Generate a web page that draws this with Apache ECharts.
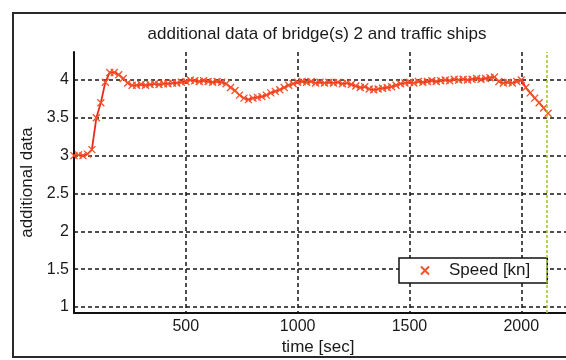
<!DOCTYPE html>
<html>
<head>
<meta charset="utf-8">
<script src="https://cdn.jsdelivr.net/npm/echarts@6/dist/echarts.min.js"></script>
<style>
  html, body { margin: 0; padding: 0; background: #fff; }
  #chart { width: 566px; height: 360px; }
</style>
</head>
<body>
<div id="chart"></div>
<script>
// Sample times (sec) and measured speed values (kn)
const times = [
  0, 20, 40, 60, 80, 100, 120, 140, 160, 180,
  200, 220, 240, 260, 280, 300, 320, 340, 360, 380,
  400, 420, 440, 460, 480, 500, 520, 540, 560, 580,
  600, 620, 640, 660, 680, 700, 720, 740, 760, 780,
  800, 820, 840, 860, 880, 900, 920, 940, 960, 980,
  1000, 1020, 1040, 1060, 1080, 1100, 1120, 1140, 1160, 1180,
  1200, 1220, 1240, 1260, 1280, 1300, 1320, 1340, 1360, 1380,
  1400, 1420, 1440, 1460, 1480, 1500, 1520, 1540, 1560, 1580,
  1600, 1620, 1640, 1660, 1680, 1700, 1720, 1740, 1760, 1780,
  1800, 1820, 1840, 1860, 1880, 1900, 1920, 1940, 1960, 1980,
  2000, 2020, 2040, 2060, 2080, 2100, 2120
];
const speed = [
  3.00, 3.01, 3.00, 3.02, 3.08, 3.50, 3.70, 3.97, 4.10, 4.10,
  4.07, 4.02, 3.96, 3.93, 3.93, 3.94, 3.93, 3.94, 3.95, 3.94,
  3.95, 3.95, 3.96, 3.96, 3.97, 3.98, 4.00, 3.99, 3.98, 3.99,
  3.98, 3.97, 3.98, 3.97, 3.95, 3.90, 3.86, 3.80, 3.76, 3.74,
  3.76, 3.77, 3.78, 3.80, 3.83, 3.85, 3.87, 3.90, 3.93, 3.95,
  3.97, 3.98, 3.97, 3.98, 3.96, 3.97, 3.96, 3.97, 3.96, 3.97,
  3.95, 3.96, 3.94, 3.92, 3.90, 3.91, 3.88, 3.87, 3.88, 3.89,
  3.90, 3.91, 3.93, 3.95, 3.96, 3.97, 3.96, 3.98, 3.97, 3.98,
  3.99, 3.98, 3.99, 4.00, 3.99, 4.01, 4.00, 4.01, 4.00, 4.01,
  4.02, 4.01, 4.02, 4.03, 4.04, 3.98, 3.96, 3.97, 3.96, 3.98,
  4.00, 3.90, 3.83, 3.76, 3.70, 3.63, 3.56
];
// Vertical marker (bridge event time, sec)
const markerTime = [2114];

const seriesName = 'Speed [kn]';
const titleText = 'additional data of bridge(s) 2 and traffic ships';
const xName = 'time [sec]';
const yName = 'additional data';

const FONT = 'Liberation Sans, Arial, sans-serif';
const crossPath = 'path://M0,0L10,10M10,0L0,10';

const chart = echarts.init(document.getElementById('chart'), null, { renderer: 'canvas' });

const gridDash = { color: '#151515', width: 1.5, type: [4, 3] };
const plainNumber = v => String(v);

chart.setOption({
  backgroundColor: '#ffffff',
  animation: false,
  title: {
    text: titleText,
    left: 312,
    top: 21,
    textAlign: 'center',
    textStyle: { fontFamily: FONT, fontSize: 17, fontWeight: 'normal', color: '#1a1a1a' }
  },
  grid: { left: 74, top: 52, bottom: 47, right: -18, containLabel: false },
  legend: {
    data: [seriesName],
    left: 399,
    top: 258,
    icon: crossPath,
    itemWidth: 8,
    itemHeight: 8,
    selectedMode: false,
    backgroundColor: '#ffffff',
    borderColor: '#111',
    borderWidth: 1.5,
    borderRadius: 0,
    padding: [3, 17, 3, 21],
    textStyle: {
      fontFamily: FONT, fontSize: 17, color: '#1a1a1a', lineHeight: 19,
      padding: [0, 0, 0, 15]
    }
  },
  xAxis: {
    type: 'value',
    min: 0,
    max: 2200,
    interval: 500,
    axisLine: { show: true, onZero: false, lineStyle: { color: '#111', width: 2 } },
    axisTick: { show: false },
    axisLabel: {
      showMinLabel: false,
      showMaxLabel: false,
      margin: 6,
      formatter: plainNumber,
      fontFamily: FONT,
      fontSize: 16,
      color: '#1a1a1a'
    },
    splitLine: { show: true, showMinLine: false, showMaxLine: false, lineStyle: gridDash }
  },
  yAxis: {
    type: 'value',
    min: 0.92,
    max: 4.37,
    splitNumber: 7,
    name: yName,
    nameLocation: 'middle',
    nameRotate: 90,
    nameGap: 27,
    nameTextStyle: { fontFamily: FONT, fontSize: 17, color: '#1a1a1a' },
    axisLine: { show: true, onZero: false, lineStyle: { color: '#111', width: 2 } },
    axisTick: { show: false },
    axisLabel: {
      showMinLabel: false,
      showMaxLabel: false,
      margin: 5,
      formatter: plainNumber,
      fontFamily: FONT,
      fontSize: 16,
      color: '#1a1a1a'
    },
    splitLine: { show: true, showMinLine: false, showMaxLine: false, lineStyle: gridDash }
  },
  graphic: [
    {
      type: 'rect',
      silent: true,
      z: -1,
      shape: { x: 13, y: 13, width: 620, height: 344 },
      style: { fill: 'none', stroke: '#2a2a2a', lineWidth: 2 }
    },
    {
      type: 'text',
      silent: true,
      x: 318,
      y: 347,
      style: {
        text: xName,
        fontFamily: FONT,
        fontSize: 17,
        fill: '#1a1a1a',
        align: 'center',
        verticalAlign: 'middle'
      }
    }
  ],
  series: [
    {
      name: seriesName,
      type: 'line',
      data: times.map((t, i) => [t, speed[i]]),
      symbol: crossPath,
      symbolSize: 7,
      showAllSymbol: true,
      lineStyle: { color: '#ec2a1c', width: 1.8 },
      itemStyle: { color: '#f4522a', borderColor: '#f4522a', borderWidth: 1.3 },
      emphasis: { disabled: true },
      markLine: {
        silent: true,
        symbol: ['none', 'none'],
        label: { show: false },
        lineStyle: { color: '#9fcc2e', width: 1.6, type: [3, 2] },
        data: markerTime.map(t => ({ xAxis: t }))
      },
      z: 3
    }
  ]
});
</script>
</body>
</html>
